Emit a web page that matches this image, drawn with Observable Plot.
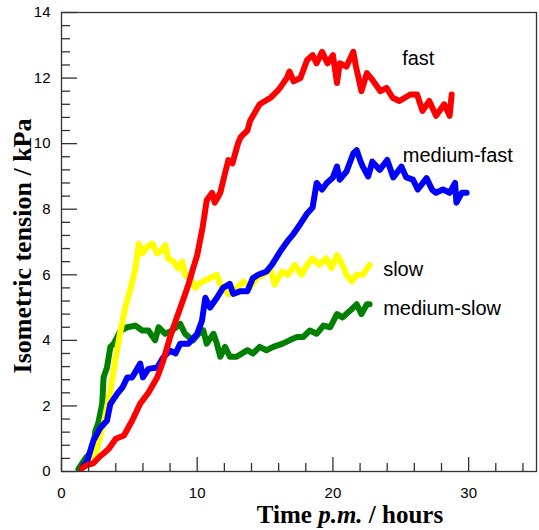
<!DOCTYPE html>
<html><head><meta charset="utf-8">
<script src="https://cdn.jsdelivr.net/npm/d3@7"></script>
<script src="https://cdn.jsdelivr.net/npm/@observablehq/plot@0.6"></script>
<style>body{margin:0;background:#fff;} svg{display:block}</style>
</head><body><div id="chart"></div>
<script>
// ---- data ----
const seriesNames = ["medium-slow", "slow", "medium-fast", "fast"];
const seriesColors = ["#008000", "#ffff00", "#0000ff", "#ff0000"];

const fastT = [1.5,1.9,2.35,2.8,3.1,3.5,4.0,4.6,5.2,5.8,6.4,7.05,7.5,8.0,8.5,9.1,9.35,9.7,10.0,10.4,10.7,11.1,11.3,11.7,12.05,12.3,12.6,13.0,13.2,13.7,13.9,14.6,15.4,15.9,16.1,16.6,16.8,17.1,17.6,18.1,18.5,18.8,19.2,19.6,20.0,20.3,20.5,21.0,21.5,21.7,22.1,22.5,22.9,23.5,23.95,24.4,24.9,25.7,26.2,26.6,27.1,27.6,28.2,28.6,28.75];
const fastV = [0.1,0.2,0.25,0.45,0.55,0.7,1.0,1.1,1.55,2.07,2.4,2.87,3.38,4.1,4.7,5.4,5.7,6.2,6.6,7.45,8.27,8.5,8.2,8.5,9.1,9.5,9.4,10.0,10.2,10.4,10.7,11.2,11.4,11.6,11.7,12.0,12.2,11.9,12.0,12.55,12.7,12.45,12.8,12.45,12.7,11.85,12.45,12.35,12.8,12.35,11.6,12.15,11.95,11.6,11.7,11.4,11.3,11.5,11.5,11.0,11.3,10.85,11.2,10.85,11.5];

const mfastT = [1.5,1.9,2.35,2.87,3.35,3.6,4.1,4.5,4.85,5.2,5.8,6.0,6.4,7.05,7.5,8.0,8.4,8.75,9.35,10.0,10.35,10.6,10.95,11.45,11.9,12.4,12.65,13.2,13.7,14.1,14.5,15.1,15.5,16.1,16.7,17.1,17.6,18.1,18.5,18.8,19.2,19.55,20.0,20.3,20.5,21.0,21.5,21.75,22.0,22.2,22.6,22.9,23.45,24.0,24.45,25.05,25.4,25.9,26.25,26.9,27.3,27.6,28.1,28.6,29.0,29.1,29.5,29.85];
const mfastV = [0.1,0.33,0.94,1.34,1.55,2.06,2.37,2.57,2.87,2.87,3.29,2.87,3.13,3.17,3.48,3.69,3.6,3.9,3.9,4.2,4.6,5.3,5.0,5.3,5.6,5.72,5.42,5.5,5.5,5.9,6.0,6.1,6.3,6.7,7.05,7.25,7.55,7.87,8.05,8.8,8.6,8.8,8.97,9.3,8.9,9.15,9.7,9.8,9.5,9.3,9.0,9.45,9.2,9.5,8.97,9.3,8.97,8.9,8.6,8.95,8.6,8.5,8.6,8.5,8.8,8.2,8.5,8.5];

const slowT = [1.8,2.35,2.7,3.1,3.6,4.0,4.35,4.7,5.1,5.45,5.7,5.95,6.3,6.7,7.05,7.4,7.65,7.85,8.25,8.6,8.9,9.1,9.5,9.85,10.2,10.45,10.95,11.45,11.7,12.3,12.9,13.4,13.9,14.4,14.85,15.4,15.7,16.25,16.7,17.2,17.7,18.1,18.5,19.0,19.5,19.9,20.3,20.7,21.0,21.4,21.75,22.2,22.7];
const slowV = [0.23,0.33,0.85,1.46,2.47,3.48,4.3,5.0,5.6,6.2,6.95,6.65,6.85,6.95,6.65,6.75,6.9,6.5,6.4,6.2,6.4,6.0,5.9,5.6,5.75,5.8,5.9,6.0,5.7,5.4,5.6,5.8,5.6,5.9,6.0,6.2,5.7,6.1,6.0,6.3,6.0,6.3,6.5,6.3,6.5,6.2,6.6,6.3,6.0,5.8,6.0,6.0,6.3];

const mslowT = [1.25,1.8,2.3,2.5,2.7,3.0,3.1,3.35,3.6,3.85,4.1,4.35,4.85,5.45,5.95,6.4,6.9,7.15,7.65,8.15,8.75,9.1,9.7,10.1,10.45,10.7,11.2,11.45,11.7,12.05,12.4,12.9,13.7,14.1,14.6,15.1,15.6,16.3,16.8,17.35,17.8,18.3,18.8,19.3,19.8,20.3,20.7,21.25,21.75,22.1,22.5,22.7];
const mslowV = [0.08,0.42,0.63,1.25,1.46,2.06,2.87,3.17,3.8,3.9,4.1,4.3,4.4,4.45,4.3,4.3,4.0,4.4,4.2,4.3,4.5,4.2,4.0,4.2,4.3,3.9,4.2,3.9,3.5,3.8,3.5,3.5,3.7,3.6,3.8,3.7,3.8,3.9,4.0,4.1,4.1,4.3,4.2,4.45,4.4,4.8,4.7,4.9,5.1,4.8,5.1,5.1];

const labelNames = ["fast", "medium-fast", "slow", "medium-slow"];
const labelT = [25.1, 25.15, 23.7, 23.7];
const labelV = [12.6, 9.64, 6.16, 4.96];

const xMajor = [0, 10, 20, 30];
const xMinor = [2,4,6,8,12,14,16,18,22,24,26,28,32,34];
const yMajor = [0, 2, 4, 6, 8, 10, 12, 14];
const yMinor = d3.range(0, 14.001, 0.4).filter(v => Math.abs(v/2 - Math.round(v/2)) > 1e-6);

// ---- build table ----
const rows = [];
function addSeries(name, ts, vs) { ts.forEach((t, i) => rows.push({series: name, t, v: vs[i]})); }
addSeries("medium-slow", mslowT, mslowV);
addSeries("slow", slowT, slowV);
addSeries("medium-fast", mfastT, mfastV);
addSeries("fast", fastT, fastV);
const labels = labelNames.map((n, i) => ({name: n, t: labelT[i], v: labelV[i]}));

const W = 539, H = 530, mL = 61, mR = 3, mT = 12, mB = 59;
const innerW = W - mL - mR, innerH = H - mT - mB;
const axisColor = "#333";

const chart = Plot.plot({
  width: W, height: H,
  marginLeft: mL, marginRight: mR, marginTop: mT, marginBottom: mB,
  style: {fontFamily: "'Liberation Sans', Arial, sans-serif", background: "#fff", color: "#000"},
  x: {domain: [0, 35], label: null},
  y: {domain: [0, 14], label: null},
  color: {domain: seriesNames, range: seriesColors},
  marks: [
    Plot.line(rows, {x: "t", y: "v", z: "series", stroke: "series", strokeWidth: 6, strokeLinejoin: "round", strokeLinecap: "round"}),
    Plot.tickX(xMinor, {x: d => d, insetTop: innerH - 8, stroke: axisColor, strokeWidth: 1.3}),
    Plot.tickX(xMajor, {x: d => d, insetTop: innerH - 14, stroke: axisColor, strokeWidth: 1.3}),
    Plot.tickY(yMinor, {y: d => d, insetRight: innerW - 9, stroke: axisColor, strokeWidth: 1.3}),
    Plot.tickY(yMajor, {y: d => d, insetRight: innerW - 16, stroke: axisColor, strokeWidth: 1.3}),
    Plot.frame({stroke: axisColor, strokeWidth: 1.3}),
    Plot.axisX({ticks: xMajor, tickSize: 0, tickPadding: 16, fontSize: 15, label: null}),
    Plot.axisY({ticks: yMajor, tickSize: 0, tickPadding: 11, fontSize: 15, label: null}),
    Plot.text(labels, {x: "t", y: "v", text: "name", textAnchor: "start", fontSize: 20, fill: "#000"})
  ]
});
document.getElementById("chart").appendChild(chart);

// axis titles (mixed italic needs tspans)
const svg = d3.select(chart);
const xt = svg.append("text")
  .attr("x", 350).attr("y", 523)
  .attr("text-anchor", "middle")
  .style("font-family", "'Liberation Serif', 'Times New Roman', serif")
  .style("font-weight", "bold").style("font-size", "25px").attr("fill", "#000");
xt.append("tspan").text("Time ");
xt.append("tspan").style("font-style", "italic").text("p.m.");
xt.append("tspan").text(" / hours");

svg.append("text")
  .attr("transform", "translate(31,246) rotate(-90)")
  .attr("text-anchor", "middle")
  .style("font-family", "'Liberation Serif', 'Times New Roman', serif")
  .style("font-weight", "bold").style("font-size", "26px").attr("fill", "#000")
  .text("Isometric tension / kPa");
</script>
</body></html>
